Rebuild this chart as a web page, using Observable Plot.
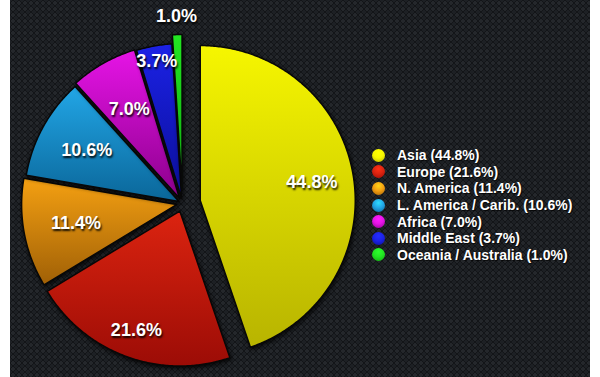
<!DOCTYPE html>
<html>
<head>
<meta charset="utf-8">
<script src="https://cdn.jsdelivr.net/npm/d3@7"></script>
<script src="https://cdn.jsdelivr.net/npm/@observablehq/plot@0.6"></script>
<style>
  html, body { margin: 0; padding: 0; background: #fff; }
  #frame { position: relative; width: 600px; height: 377px; background: #fff; overflow: hidden; font-family: "Liberation Sans", Arial, Helvetica, sans-serif; }
  #bg { position: absolute; left: 10px; top: 0; width: 580px; height: 377px;
    background-color: #131518;
    background-image:
      radial-gradient(circle, #24272b 38%, transparent 44%),
      radial-gradient(circle, #1d2024 38%, transparent 44%);
    background-size: 6px 6px, 6px 6px;
    background-position: 0 0, 3px 3px; }
  #chart { position: absolute; left: 0; top: 0; }
  #chart g[aria-label="line"] path { filter: drop-shadow(1px 2px 2px rgba(0,0,0,0.8)); }
  #chart g[aria-label="text"] text { text-shadow: 1px 2px 2px rgba(0,0,0,0.9); }
  #legend { position: absolute; left: 372px; top: 147px; color: #fff; font-weight: bold; font-size: 14px; }
  .row { display: flex; align-items: center; height: 16.6px; white-space: nowrap; text-shadow: 1px 1px 1px rgba(0,0,0,0.8); }
  .ball { width: 13px; height: 13px; border-radius: 50%; margin-right: 12px; flex: none; }
</style>
</head>
<body>
<div id="frame">
  <div id="bg"></div>
  <div id="chart"></div>
  <div id="legend"></div>
</div>
<script>
// ---- data ----
const regions = ["Asia", "Europe", "N. America", "L. America / Carib.", "Africa", "Middle East", "Oceania / Australia"];
const shares = [44.8, 21.6, 11.4, 10.6, 7.0, 3.7, 1.0];

// ---- styles ----
const colorTop = ["#f6f600", "#dc2410", "#f4a012", "#22a6e6", "#e614e6", "#1c22e6", "#22e622"];
const colorBottom = ["#b8b400", "#9c0c06", "#a06006", "#0a6699", "#8c008c", "#0a0e98", "#0ea80e"];
const explodePx = [18, 8, 6, 4, 6, 5, 14];
const labelRadius = [0.73, 0.82, 0.66, 0.68, 0.66, 0.9, 1.12];

const PX = 155;          // pixels per unit radius
const W = 600, H = 377;
const cxPx = 182, cyPx = 203;

const pie = d3.pie().sort(null).startAngle(0).endAngle(2 * Math.PI).value(d => d);
const arcs = pie(shares);

const slices = arcs.map((a, i) => {
  const mid = (a.startAngle + a.endAngle) / 2;
  const o = explodePx[i] / PX;
  const ox = o * Math.sin(mid), oy = o * Math.cos(mid);
  const n = Math.max(3, Math.ceil((a.endAngle - a.startAngle) / 0.01));
  const pts = [{x: ox, y: oy}];
  for (let k = 0; k <= n; k++) {
    const t = a.startAngle + (a.endAngle - a.startAngle) * k / n;
    pts.push({x: ox + Math.sin(t), y: oy + Math.cos(t)});
  }
  pts.push({x: ox, y: oy});
  const lr = labelRadius[i];
  return {pts, label: {x: ox + lr * Math.sin(mid), y: oy + lr * Math.cos(mid), text: shares[i].toFixed(1) + "%"}};
});

const marks = slices.map((s, i) => Plot.line(s.pts, {
  x: "x", y: "y", fill: `url(#g${i})`, stroke: "#080808", strokeWidth: 1.5, curve: "linear"
}));
marks.push(Plot.text(slices.map(s => s.label), {
  x: "x", y: "y", text: "text", fill: "white", fontSize: 18, fontWeight: "bold",
  fontFamily: "Liberation Sans, Arial, sans-serif"
}));

const svg = Plot.plot({
  width: W, height: H, margin: 0,
  x: {domain: [-cxPx / PX, (W - cxPx) / PX], axis: null},
  y: {domain: [-(H - cyPx) / PX, cyPx / PX], axis: null},
  style: {background: "transparent", overflow: "visible"},
  marks
});

// gradients
const ns = "http://www.w3.org/2000/svg";
const defs = document.createElementNS(ns, "defs");
colorTop.forEach((c, i) => {
  const g = document.createElementNS(ns, "linearGradient");
  g.setAttribute("id", "g" + i);
  g.setAttribute("x1", "0"); g.setAttribute("y1", "0");
  g.setAttribute("x2", "0"); g.setAttribute("y2", "1");
  [[0, c], [1, colorBottom[i]]].forEach(([off, col]) => {
    const st = document.createElementNS(ns, "stop");
    st.setAttribute("offset", off);
    st.setAttribute("stop-color", col);
    g.appendChild(st);
  });
  defs.appendChild(g);
});
svg.insertBefore(defs, svg.firstChild);
document.getElementById("chart").appendChild(svg);

// legend
const legend = document.getElementById("legend");
regions.forEach((r, i) => {
  const row = document.createElement("div");
  row.className = "row";
  const ball = document.createElement("span");
  ball.className = "ball";
  ball.style.background = `radial-gradient(circle at 50% 30%, ${d3.color(colorTop[i]).brighter(0.8)} 0%, ${colorTop[i]} 45%, ${colorBottom[i]} 100%)`;
  const txt = document.createElement("span");
  txt.textContent = `${r} (${shares[i].toFixed(1)}%)`;
  row.appendChild(ball);
  row.appendChild(txt);
  legend.appendChild(row);
});
</script>
</body>
</html>
